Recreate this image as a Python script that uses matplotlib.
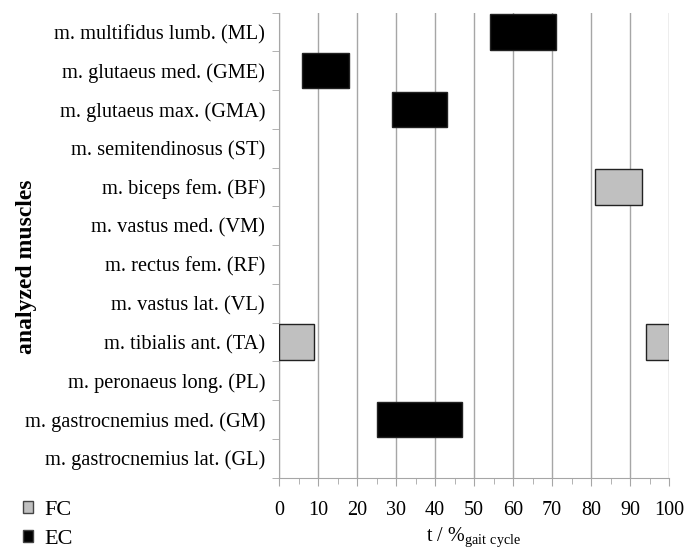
import matplotlib.pyplot as plt
from matplotlib.patches import Patch
from matplotlib.ticker import MultipleLocator

plt.rcParams['font.family'] = ['Liberation Serif', 'DejaVu Serif']
plt.rcParams['mathtext.default'] = 'regular'

# muscles listed top to bottom
muscles = [
    "m. multifidus lumb. (ML)", "m. glutaeus med. (GME)", "m. glutaeus max. (GMA)",
    "m. semitendinosus (ST)", "m. biceps fem. (BF)", "m. vastus med. (VM)",
    "m. rectus fem. (RF)", "m. vastus lat. (VL)", "m. tibialis ant. (TA)",
    "m. peronaeus long. (PL)", "m. gastrocnemius med. (GM)", "m. gastrocnemius lat. (GL)",
]

# intervals in % gait cycle: (muscle, start, end)
fc_muscle = ["m. biceps fem. (BF)", "m. tibialis ant. (TA)", "m. tibialis ant. (TA)"]
fc_start = [81, 0, 94]
fc_end = [93, 9, 100]

ec_muscle = ["m. multifidus lumb. (ML)", "m. glutaeus med. (GME)",
             "m. glutaeus max. (GMA)", "m. gastrocnemius med. (GM)"]
ec_start = [54, 6, 29, 25]
ec_end = [71, 18, 43, 47]

fc_color = "#c0c0c0"
ec_color = "#000000"
grid_color = "#a6a6a6"

fig = plt.figure(figsize=(6.88, 5.52), dpi=100)
ax = fig.add_axes([279 / 688, 1 - 477.5 / 552, 390 / 688, 465 / 552])

ypos = {m: len(muscles) - 1 - i for i, m in enumerate(muscles)}

for m, s, e in zip(fc_muscle, fc_start, fc_end):
    ax.barh(ypos[m], e - s, left=s, height=0.92, color=fc_color,
            edgecolor="#222222", linewidth=1, zorder=3)
for m, s, e in zip(ec_muscle, ec_start, ec_end):
    ax.barh(ypos[m], e - s, left=s, height=0.92, color=ec_color,
            edgecolor="#222222", linewidth=1, zorder=3)

ax.set_xlim(0, 100)
ax.set_ylim(-0.5, len(muscles) - 0.5)
ax.xaxis.set_major_locator(MultipleLocator(10))
ax.xaxis.set_minor_locator(MultipleLocator(5))
ax.grid(axis="x", which="major", color=grid_color, linewidth=1, zorder=0)

ax.set_yticks([ypos[m] for m in muscles])
ax.set_yticklabels(muscles, fontsize=14.7)
ax.set_yticks([i - 0.5 for i in range(len(muscles) + 1)], minor=True)
ax.tick_params(axis="y", which="major", length=0, pad=10)
ax.tick_params(axis="y", which="minor", length=5, color=grid_color)
ax.tick_params(axis="x", which="major", length=6, color=grid_color, labelsize=14.5, pad=11)
ax.tick_params(axis="x", which="minor", length=4, color=grid_color)

for side in ["top", "right"]:
    ax.spines[side].set_visible(False)
for side in ["left", "bottom"]:
    ax.spines[side].set_color(grid_color)

fig.text(474 / 688, 1 - 537 / 552, "t / %$_{gait\\ cycle}$", fontsize=14.5,
         ha="center", va="center")
fig.text(27 / 688, 1 - 267 / 552, "analyzed muscles", rotation=90, fontsize=17,
         fontweight="bold", ha="center", va="center")

handles = [Patch(facecolor=fc_color, edgecolor="#444444", label="FC"),
           Patch(facecolor=ec_color, edgecolor="#444444", label="EC")]
fig.legend(handles=handles, loc="upper left", bbox_to_anchor=(10 / 688, 1 - 488 / 552),
           frameon=False, fontsize=16, handlelength=0.45, handleheight=0.45,
           handletextpad=0.5, labelspacing=0.45, borderpad=0.1)

fig.savefig("out.png", dpi=100)
